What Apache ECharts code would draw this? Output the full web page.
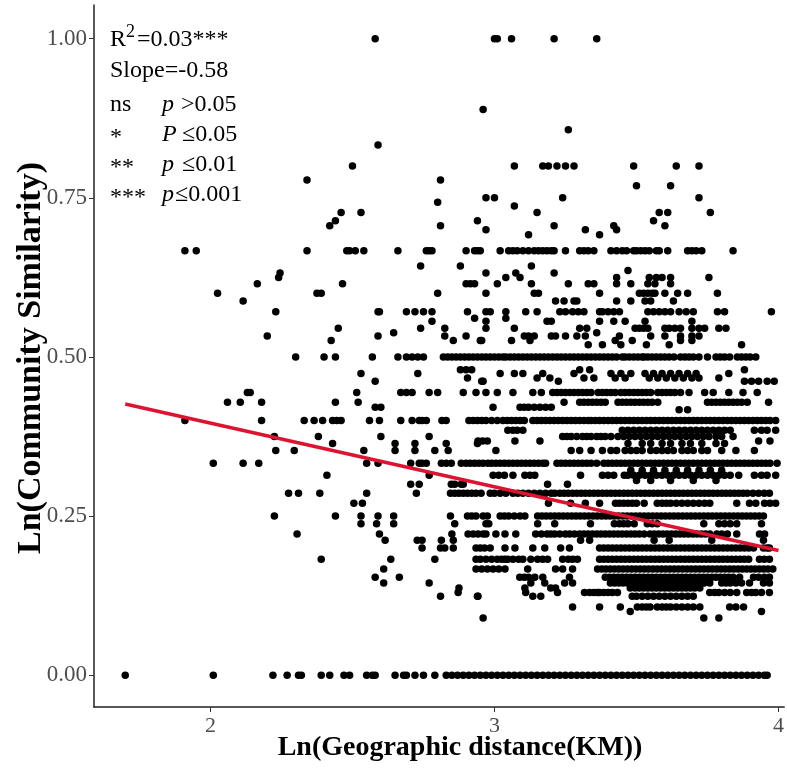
<!DOCTYPE html>
<html>
<head>
<meta charset="utf-8">
<script src="https://cdn.jsdelivr.net/npm/echarts@6/dist/echarts.min.js"></script>
<style>
  html, body { margin: 0; padding: 0; background: #fff; }
  #main { width: 787px; height: 774px; }
</style>
</head>
<body>
<div id="main"></div>
<script>
// points, grouped by similarity level: [y, [x, x, ...]]
const zeroRow = [1.70,2.01,2.22,2.27,2.31,2.32,2.39,2.42,2.47,2.49,2.55,2.57,2.58,2.65,2.68,2.69,2.72,2.75,2.79,
  2.83,2.85,2.87,2.89,2.91,2.93,2.95,2.97,2.99,3.01,3.03,3.05,3.07,3.09,3.11,3.13,3.15,3.17,3.19,3.21,3.23,3.25,
  3.27,3.29,3.31,3.33,3.35,3.37,3.39,3.41,3.43,3.45,3.47,3.49,3.51,3.53,3.55,3.57,3.59,3.61,3.63,3.65,3.67,3.69,
  3.71,3.73,3.75,3.77,3.79,3.81,3.83,3.85,3.87,3.89,3.91,3.93,3.95,3.96]

const upperRows = [
  [1.0, [2.58,3.00,3.01,3.06,3.21,3.36]],
  [0.889, [2.96]],
  [0.857, [3.26]],
  [0.833, [2.59]],
  [0.80, [2.50,3.07,3.17,3.19,3.22,3.25,3.28,3.49,3.64,3.72]],
  [0.778, [2.34,2.81]],
  [0.769, [3.50,3.62]],
  [0.75, [2.97,3.00,3.24,3.72]],
  [0.743, [2.80]],
  [0.737, [3.07]],
  [0.727, [2.46,2.53,3.15,3.58,3.61,3.76]],
  [0.714, [2.44,2.94,3.56]],
  [0.706, [2.42,2.81,3.21,3.42,3.60]],
  [0.70, [2.97,3.32,3.43]],
  [0.692, [3.12,3.37]],
  [0.667, [1.91,1.95,2.34,2.48,2.49,2.51,2.54,2.66,2.76,2.77,2.78,2.90,2.93,2.94,2.95,3.02,3.05,3.065,3.08,3.10,3.12,3.14,3.155,3.17,3.185,3.20,3.21,3.25,3.30,3.315,3.33,3.35,3.41,3.43,3.45,3.465,3.49,3.50,3.515,3.53,3.545,3.57,3.58,3.61,3.68,3.695,3.71,3.73,3.84]],
  [0.643, [2.74,2.88,3.13]],
  [0.636, [3.47]],
  [0.632, [2.245,2.97,3.075,3.21]],
  [0.625, [2.24,3.04,3.09,3.43,3.545,3.57,3.59,3.62,3.755]],
  [0.615, [2.165,2.465,2.90,2.915,2.93,3.01,3.13,3.26,3.33,3.35,3.43,3.48,3.54,3.565,3.62]],
  [0.60, [2.025,2.375,2.39,2.80,2.97,3.14,3.155,3.37,3.51,3.525,3.54,3.555,3.565,3.60,3.645,3.68,3.785]],
  [0.588, [2.115,3.215,3.245,3.28,3.29,3.43,3.48,3.53,3.55,3.63]],
  [0.571, [2.23,2.59,2.595,2.69,2.72,2.75,2.78,2.905,2.97,2.985,3.04,3.11,3.15,3.23,3.25,3.275,3.295,3.315,3.37,3.38,3.40,3.42,3.44,3.54,3.56,3.58,3.60,3.62,3.65,3.675,3.70,3.785,3.81,3.975]],
  [0.561, [2.93,3.04]],
  [0.556, [2.78,2.97,3.185,3.20,3.37,3.42,3.46,3.53,3.695]],
  [0.545, [2.45,2.74,2.825,2.97,3.07,3.30,3.325,3.495,3.51,3.525,3.54,3.60,3.615,3.635,3.655,3.695,3.72,3.74,3.79,3.815]],
  [0.538, [2.645,3.36]],
  [0.533, [2.20,2.59,2.825,2.90,3.105,3.12,3.14,3.20,3.215,3.25,3.29,3.32,3.44,3.55,3.60,3.655,3.695,3.72]],
  [0.526, [2.425,2.855,2.95,2.955,3.06,3.125,3.425,3.485,3.655,3.695]],
  [0.519, [3.33,3.38,3.445,3.535,3.615,3.87]]
]

const midRows = [
  [0.5, [2.30,2.40,2.44,2.57,2.66,2.69,2.71,2.73,2.75,2.82,2.835,2.85,2.865,2.88,2.895,2.91,2.925,2.94,2.955,
    2.97,2.985,3.00,3.015,3.03,3.04,3.055,3.07,3.085,3.10,3.115,3.13,3.145,3.16,3.175,3.19,3.205,3.22,3.235,3.25,
    3.265,3.28,3.295,3.31,3.325,3.34,3.355,3.37,3.385,3.40,3.415,3.43,3.45,3.46,3.475,3.49,3.505,3.52,3.527,
    3.54,3.555,3.57,3.585,3.60,3.615,3.632,3.655,3.67,3.685,3.70,3.72,3.75,3.78,3.795,3.81,3.828,3.855,3.87,3.885,3.90,3.92]],
  [0.48, [2.88,2.90,2.92,3.30,3.335,3.88]],
  [0.474, [2.53,2.73,3.02,3.07,3.10,3.17,3.28,3.41,3.445,3.48,3.53,3.56,3.59,3.62,3.65,3.68,3.71,3.825]],
  [0.467, [2.905,3.15,3.195,3.315,3.35,3.425,3.46,3.545,3.575,3.605,3.635,3.665,3.695,3.72,3.79]],
  [0.462, [2.58,2.955,2.96,3.225,3.88,3.905,3.93,3.96,3.985]],
  [0.444, [2.13,2.14,2.515,2.67,2.69,2.71,2.77,2.80,2.89,2.935,2.97,3.01,3.065,3.135,3.165,3.205,3.22,3.235,3.25,3.265,3.28,3.295,3.31,3.325,3.34,3.365,3.38,3.395,3.41,3.425,3.445,3.46,3.475,3.49,3.505,3.52,3.535,3.55,3.575,3.59,3.605,3.62,3.635,3.655,3.685,3.74,3.77,3.825,3.875,3.925]],
  [0.429, [2.06,2.105,2.18,2.44,2.52,3.245,3.30,3.315,3.33,3.345,3.36,3.375,3.39,3.435,3.45,3.465,3.48,3.495,3.51,3.525,3.54,3.555,3.575,3.75,3.765,3.78,3.795,3.81,3.825,3.84,3.855,3.87,3.89,3.965]],
  [0.421, [2.58,2.60,2.995,3.09,3.105,3.12,3.14,3.16,3.18,3.20]],
  [0.417, [3.65,3.68]],
  [0.4, [1.91,2.18,2.33,2.365,2.395,2.43,2.445,2.46,2.56,2.595,2.67,2.71,2.735,2.745,2.76,2.815,2.83,2.91,2.925,2.94,2.955,2.97,2.99,
    3.01,3.03,3.045,3.06,3.075,3.09,3.105,3.135,3.15,3.165,3.18,3.195,3.21,3.225,3.24,3.255,3.27,3.285,3.30,3.315,3.33,3.34,
    3.355,3.37,3.385,3.40,3.415,3.43,3.445,3.46,3.475,3.49,3.505,3.52,3.535,3.55,3.565,3.58,3.595,3.61,3.625,3.64,3.655,3.67,
    3.685,3.70,3.715,3.73,3.745,3.76,3.775,3.79,3.805,3.82,3.835,3.85,3.865,3.88,3.895,3.91,3.925,3.94,3.955,3.97,3.99]],
  [0.385, [3.047,3.065,3.08,3.10,3.45,3.47,3.49,3.51,3.53,3.55,3.57,3.59,3.61,3.63,3.65,3.67,3.69,3.71,3.73,3.75,3.77,3.79,3.81,3.83,3.915,3.94,3.96,3.99]],
  [0.375, [2.225,2.38,2.60,2.77,3.24,3.255,3.27,3.29,3.31,3.325,3.34,3.36,3.375,3.39,3.41,3.435,3.455,3.475,3.495,3.515,3.535,3.555,3.575,3.595,3.615,3.635,3.655,3.675,3.695,3.715,3.735,3.755,3.78,3.80,3.84]],
  [0.368, [2.942,2.958,2.975,3.072,3.16,3.93,3.97]],
  [0.364, [2.43,2.65,2.72,2.83,2.94,3.47,3.52,3.55,3.59,3.62,3.66,3.69,3.73,3.78,3.81]],
  [0.353, [2.23,2.295,2.54,2.65,2.72,2.79,2.837,3.005,3.27,3.30,3.34,3.38,3.41,3.43,3.46,3.48,3.50,3.52,3.55,3.57,3.59,3.61,3.63,3.66,3.68,3.70,3.73,3.75,3.80,3.85,3.915]],
  [0.333, [2.01,2.115,2.17,2.55,2.59,2.705,2.735,2.745,2.76,2.813,2.83,2.848,2.883,2.90,2.915,2.93,2.945,2.96,2.977,2.99,
    3.005,3.02,3.035,3.05,3.065,3.08,3.095,3.11,3.125,3.14,3.155,3.17,3.18,3.22,3.235,3.25,3.265,3.28,3.295,3.31,3.325,3.34,3.36,
    3.385,3.40,3.415,3.43,3.445,3.46,3.475,3.49,3.505,3.52,3.535,3.55,3.565,3.58,3.595,3.61,3.625,3.64,3.655,3.67,3.685,3.70,
    3.715,3.73,3.745,3.76,3.775,3.79,3.805,3.82,3.835,3.85,3.865,3.88,3.895,3.91,3.925,3.94,3.955,3.97,3.995]],
  [0.322, [3.48,3.52,3.56,3.60,3.64,3.68,3.72,3.76,3.80]],
  [0.314, [2.41,2.77,2.995,3.015,3.035,3.065,3.107,3.125,3.142,3.303,3.38,3.40,3.42,3.457,3.47,3.49,3.51,3.53,3.55,3.57,3.59,3.61,3.63,3.65,3.67,3.69,3.71,3.73,3.75,3.77,3.79,3.81,3.83,3.86,3.915,3.94,3.96,3.99]],
  [0.306, [3.50,3.55,3.62,3.70,3.78]],
  [0.30, [2.705,2.735,2.848,2.86,2.883,2.89,3.187,3.257]]
]

const lowRows = [
  [0.286, [2.275,2.31,2.385,2.55,2.725,2.845,2.86,2.875,2.89,2.905,2.92,2.935,2.953,2.985,3.00,3.02,3.04,3.065,3.082,3.10,3.12,3.14,3.16,3.18,3.20,3.212,
    3.23,3.245,3.26,3.275,3.29,3.305,3.32,3.335,3.35,3.365,3.38,3.395,3.41,3.425,3.44,3.455,3.47,3.485,3.50,3.515,3.53,3.545,3.56,3.575,
    3.59,3.605,3.62,3.635,3.65,3.665,3.68,3.695,3.71,3.725,3.74,3.755,3.77,3.785,3.80,3.815,3.83,3.845,3.86,3.875,3.89,3.91,3.93,3.95,3.968]],
  [0.27, [2.505,2.535,3.19,3.268,3.32,3.37,3.426,3.44,3.455,3.47,3.485,3.50,3.527,3.573,3.59,3.605,3.62,3.64,3.66,3.68,3.70,3.72,3.74,3.758,3.853,3.898,3.92,3.951,3.97,3.99]],
  [0.25, [2.225,2.44,2.53,2.59,2.645,2.845,2.905,2.92,2.935,2.96,2.975,3.02,3.035,3.05,3.07,3.09,3.107,
    3.152,3.167,3.182,3.197,3.212,3.227,3.242,3.257,3.272,3.287,3.302,3.317,3.332,3.347,3.362,3.377,3.392,3.407,3.422,3.437,3.452,
    3.467,3.482,3.497,3.512,3.527,3.542,3.557,3.572,3.587,3.602,3.617,3.632,3.647,3.662,3.677,3.692,3.707,3.722,3.737,3.752,3.767,
    3.782,3.797,3.812,3.827,3.842,3.857,3.872,3.887,3.902,3.917,3.932,3.947]],
  [0.238, [2.53,2.585,2.645,2.86,2.97,2.98,3.152,3.212,3.338,3.422,3.44,3.455,3.47,3.492,3.538,3.555,3.573,3.737,3.79,3.81,3.83,3.853,3.94]],
  [0.222, [2.305,2.595,2.85,2.907,2.925,2.942,2.96,2.97,3.005,3.037,3.075,3.145,3.165,3.185,3.198,3.212,3.23,3.25,3.265,3.282,3.30,3.315,3.33,3.345,3.36,3.375,3.39,3.405,
    3.42,3.435,3.45,3.465,3.48,3.495,3.51,3.527,3.548,3.563,3.578,3.593,3.608,3.623,3.638,3.653,3.668,3.683,3.698,3.713,3.728,3.743,3.758,3.783,3.80,3.82,3.853,3.933,3.951]],
  [0.212, [2.615,2.728,2.745,2.813,2.855,3.303,3.335,3.562,3.615,3.765,3.947]],
  [0.2, [2.745,2.81,2.825,2.855,2.935,2.95,2.965,2.985,3.037,3.072,3.135,3.177,3.233,3.264,
    3.37,3.385,3.40,3.415,3.43,3.445,3.46,3.475,3.49,3.505,3.52,3.535,3.55,3.565,3.58,3.595,3.61,3.625,3.64,3.655,3.67,3.685,3.70,
    3.715,3.73,3.745,3.76,3.775,3.79,3.805,3.82,3.835,3.85,3.865,3.88,3.895,3.912,3.947,3.96,3.968]],
  [0.182, [2.39,2.635,2.79,2.935,2.95,2.97,2.99,3.01,3.025,3.037,3.047,3.065,3.085,3.10,3.128,3.152,3.17,3.187,3.24,3.26,3.275,3.292,
    3.37,3.385,3.40,3.415,3.43,3.445,3.46,3.475,3.49,3.505,3.52,3.535,3.55,3.565,3.58,3.595,3.61,3.625,3.64,3.655,3.67,3.685,3.70,
    3.715,3.73,3.745,3.76,3.775,3.79,3.805,3.82,3.835,3.85,3.865,3.88,3.895,3.933,3.95,3.968]],
  [0.167, [2.61,2.935,2.955,2.975,2.995,3.015,3.037,3.117,3.215,3.24,3.275,
    3.363,3.378,3.393,3.408,3.423,3.438,3.453,3.468,3.483,3.498,3.513,3.528,3.543,3.558,3.573,3.588,3.603,3.618,3.633,3.648,3.663,
    3.678,3.693,3.708,3.723,3.738,3.753,3.768,3.783,3.798,3.813,3.828,3.843,3.858,3.873,3.888,3.903,3.918,3.933,3.948,3.963,3.98]],
  [0.154, [2.58,2.665,3.089,3.105,3.12,3.142,3.17,3.264,3.39,3.405,3.42,3.435,3.45,3.465,3.48,3.495,3.51,3.525,3.54,3.555,3.57,3.585,
    3.60,3.615,3.63,3.645,3.66,3.675,3.69,3.705,3.72,3.735,3.75,3.765,3.78,3.795,3.81,3.825,3.84,3.863,3.912,3.93,3.95,3.968]],
  [0.145, [2.61,2.77,3.128,3.177,3.247,3.275,3.408,3.423,3.438,3.453,3.468,3.483,3.498,3.513,3.528,3.543,3.558,3.573,3.588,3.603,
    3.618,3.633,3.648,3.663,3.678,3.693,3.708,3.723,3.738,3.758,3.80,3.815,3.83,3.85,3.87,3.898,3.947,3.968]],
  [0.137, [2.875,3.107,3.198,3.215,3.478,3.495,3.51,3.525,3.54,3.555,3.57,3.585,3.60,3.615,3.63,3.645,3.66,3.675,3.69,3.705,3.723]],
  [0.13, [2.872,3.11,3.222,3.317,3.335,3.35,3.363,3.37,3.385,3.40,3.415,3.433,3.758,3.775,3.79,3.81,3.83,3.853,3.888,3.905,3.92,3.94,3.968]],
  [0.124, [2.81,2.94,2.942,3.135,3.163,3.485,3.50,3.52,3.54,3.56,3.58,3.60,3.62,3.64,3.66,3.68,3.70]],
  [0.107, [3.275,3.37,3.443,3.503,3.52,3.535,3.548,3.573,3.59,3.605,3.62,3.64,3.66,3.68,3.70,3.723,3.828,3.85,3.877]],
  [0.1, [3.478,3.94]],
  [0.09, [2.96,3.737,3.79]]
]

// fitted regression line, end points
const fitLine = [[1.70, 0.426], [4.0, 0.196]]

const xTicks = [2, 3, 4]
const yTicks = [0, 0.25, 0.5, 0.75, 1]

const points = zeroRow.map(x => [x, 0])
upperRows.concat(midRows, lowRows).forEach(([y, xs]) => {
  xs.forEach(x => points.push([x, y]))
})

const serif = 'Liberation Serif'
const myChart = echarts.init(document.getElementById('main'), null, { renderer: 'canvas' })

const txt = (left, top, text, size, italic) => ({
  type: 'text', left: left, top: top,
  style: { text: text, font: (italic ? 'italic ' : '') + size + 'px ' + serif, fill: '#000' }
})

myChart.setOption({
  animation: false,
  backgroundColor: '#fff',
  grid: { left: 94, right: 0, top: 5, bottom: 67 },
  xAxis: {
    type: 'value',
    min: 1.59,
    max: 4.02,
    splitLine: { show: false },
    axisLine: { show: true, onZero: false, lineStyle: { color: '#222', width: 1.5 } },
    axisTick: { show: true, customValues: xTicks, length: 5, lineStyle: { color: '#333', width: 1 } },
    axisLabel: { customValues: xTicks, color: '#4d4d4d', fontFamily: serif, fontSize: 22, margin: 8 }
  },
  yAxis: {
    type: 'value',
    min: -0.05,
    max: 1.053,
    splitLine: { show: false },
    axisLine: { show: true, onZero: false, lineStyle: { color: '#222', width: 1.5 } },
    axisTick: { show: true, customValues: yTicks, length: 5, lineStyle: { color: '#333', width: 1 } },
    axisLabel: {
      customValues: yTicks, color: '#4d4d4d', fontFamily: serif, fontSize: 23, margin: 7,
      formatter: v => v.toFixed(2)
    }
  },
  series: [
    {
      type: 'scatter',
      data: points,
      symbolSize: 7.5,
      itemStyle: { color: '#000', opacity: 1 },
      silent: true
    },
    {
      type: 'line',
      data: fitLine,
      symbol: 'none',
      lineStyle: { color: '#dc1431', width: 3.5 },
      z: 5,
      silent: true
    }
  ],
  graphic: [
    txt(110, 28, 'R', 24),
    txt(126, 23, '2', 18),
    txt(137, 28, '=0.03***', 24),
    txt(110, 59, 'Slope=-0.58', 24),
    txt(110, 93, 'ns', 24),
    txt(162, 93, 'p', 24, true),
    txt(181, 93, '>0.05', 24),
    txt(110, 126, '*', 24),
    txt(162, 123, 'P', 24, true),
    txt(182, 123, '≤0.05', 24),
    txt(110, 156, '**', 24),
    txt(162, 153, 'p', 24, true),
    txt(182, 153, '≤0.01', 24),
    txt(110, 186, '***', 24),
    txt(162, 183, 'p', 24, true),
    txt(175, 183, '≤0.001', 24),
    {
      type: 'text', x: 460, y: 748,
      style: { text: 'Ln(Geographic distance(KM))', font: 'bold 28px ' + serif, fill: '#000', textAlign: 'center', textVerticalAlign: 'middle' }
    },
    {
      type: 'text', x: 31, y: 358, rotation: Math.PI / 2,
      style: { text: 'Ln(Community Similarity)', font: 'bold 34px ' + serif, fill: '#000', textAlign: 'center', textVerticalAlign: 'middle' }
    }
  ]
})
</script>
</body>
</html>
